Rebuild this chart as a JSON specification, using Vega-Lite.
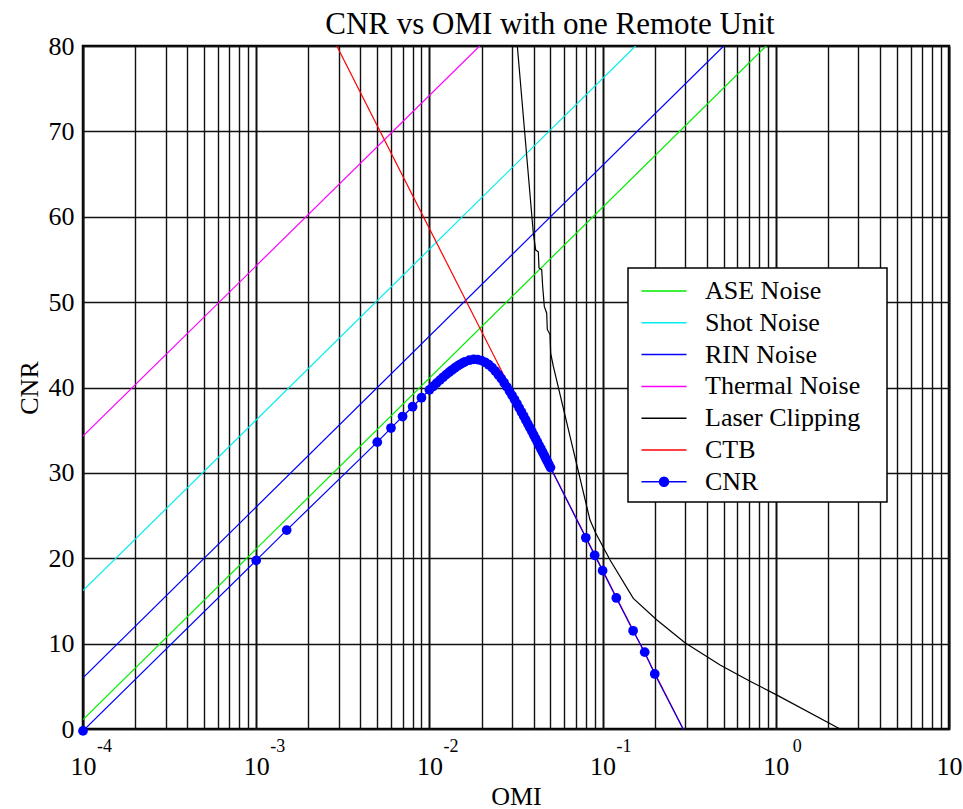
{
  "$schema": "https://vega.github.io/schema/vega-lite/v6.json",
  "width": 866,
  "height": 683,
  "autosize": {"type": "none"},
  "padding": {"left": 83, "top": 46, "right": 14, "bottom": 80},
  "background": "white",
  "title": {"text": "CNR vs OMI with one Remote Unit", "font": "Liberation Serif", "fontSize": 31, "fontWeight": "normal", "color": "black", "anchor": "middle", "dx": 34, "dy": 18, "offset": 10},
  "config": {
    "view": {"stroke": "black", "strokeWidth": 2.5},
    "axis": {"labelFont": "Liberation Serif", "titleFont": "Liberation Serif", "labelColor": "black", "titleColor": "black", "titleFontWeight": "normal", "labelFontSize": 26, "titleFontSize": 26, "ticks": false, "domain": false}
  },
  "data": {"values": [
    {"series": "ASE Noise", "OMI": 0.0001, "CNR": 1.1},
    {"series": "ASE Noise", "OMI": 0.88, "CNR": 80},
    {"series": "Shot Noise", "OMI": 0.0001, "CNR": 16.2},
    {"series": "Shot Noise", "OMI": 0.155, "CNR": 80},
    {"series": "RIN Noise", "OMI": 0.0001, "CNR": 6.0},
    {"series": "RIN Noise", "OMI": 0.5, "CNR": 80},
    {"series": "Thermal Noise", "OMI": 0.0001, "CNR": 34.3},
    {"series": "Thermal Noise", "OMI": 0.0195, "CNR": 80},
    {"series": "Laser Clipping", "OMI": 0.03218, "CNR": 80},
    {"series": "Laser Clipping", "OMI": 0.0398, "CNR": 58.1},
    {"series": "Laser Clipping", "OMI": 0.04109, "CNR": 56.1},
    {"series": "Laser Clipping", "OMI": 0.04254, "CNR": 55.9},
    {"series": "Laser Clipping", "OMI": 0.04293, "CNR": 54.0},
    {"series": "Laser Clipping", "OMI": 0.04451, "CNR": 53.8},
    {"series": "Laser Clipping", "OMI": 0.04509, "CNR": 51.8},
    {"series": "Laser Clipping", "OMI": 0.04607, "CNR": 49.5},
    {"series": "Laser Clipping", "OMI": 0.04755, "CNR": 48.7},
    {"series": "Laser Clipping", "OMI": 0.04794, "CNR": 46.8},
    {"series": "Laser Clipping", "OMI": 0.04969, "CNR": 46.2},
    {"series": "Laser Clipping", "OMI": 0.05015, "CNR": 44.0},
    {"series": "Laser Clipping", "OMI": 0.05191, "CNR": 42.5},
    {"series": "Laser Clipping", "OMI": 0.0845, "CNR": 24.5},
    {"series": "Laser Clipping", "OMI": 0.0912, "CNR": 22.95},
    {"series": "Laser Clipping", "OMI": 0.1104, "CNR": 19.8},
    {"series": "Laser Clipping", "OMI": 0.1504, "CNR": 15.3},
    {"series": "Laser Clipping", "OMI": 0.205, "CNR": 12.8},
    {"series": "Laser Clipping", "OMI": 0.299, "CNR": 10.1},
    {"series": "Laser Clipping", "OMI": 0.477, "CNR": 7.5},
    {"series": "Laser Clipping", "OMI": 0.71, "CNR": 5.6},
    {"series": "Laser Clipping", "OMI": 1.01, "CNR": 4.0},
    {"series": "Laser Clipping", "OMI": 2.35, "CNR": 0},
    {"series": "CTB", "OMI": 0.00292, "CNR": 80},
    {"series": "CTB", "OMI": 0.292, "CNR": 0},
    {"series": "CNR", "OMI": 0.0001, "CNR": -0.22},
    {"series": "CNR", "OMI": 0.001, "CNR": 19.75},
    {"series": "CNR", "OMI": 0.0015, "CNR": 23.3},
    {"series": "CNR", "OMI": 0.005, "CNR": 33.6},
    {"series": "CNR", "OMI": 0.006, "CNR": 35.25},
    {"series": "CNR", "OMI": 0.007, "CNR": 36.6},
    {"series": "CNR", "OMI": 0.008, "CNR": 37.75},
    {"series": "CNR", "OMI": 0.009, "CNR": 38.8},
    {"series": "CNR", "OMI": 0.010, "CNR": 39.72},
    {"series": "CNR", "OMI": 0.0105, "CNR": 40.12},
    {"series": "CNR", "OMI": 0.011, "CNR": 40.51},
    {"series": "CNR", "OMI": 0.0115, "CNR": 40.87},
    {"series": "CNR", "OMI": 0.012, "CNR": 41.20},
    {"series": "CNR", "OMI": 0.0125, "CNR": 41.51},
    {"series": "CNR", "OMI": 0.013, "CNR": 41.79},
    {"series": "CNR", "OMI": 0.0135, "CNR": 42.05},
    {"series": "CNR", "OMI": 0.014, "CNR": 42.29},
    {"series": "CNR", "OMI": 0.0145, "CNR": 42.50},
    {"series": "CNR", "OMI": 0.015, "CNR": 42.69},
    {"series": "CNR", "OMI": 0.0155, "CNR": 42.86},
    {"series": "CNR", "OMI": 0.016, "CNR": 43.00},
    {"series": "CNR", "OMI": 0.017, "CNR": 43.20},
    {"series": "CNR", "OMI": 0.018, "CNR": 43.29},
    {"series": "CNR", "OMI": 0.019, "CNR": 43.27},
    {"series": "CNR", "OMI": 0.020, "CNR": 43.15},
    {"series": "CNR", "OMI": 0.021, "CNR": 42.95},
    {"series": "CNR", "OMI": 0.022, "CNR": 42.67},
    {"series": "CNR", "OMI": 0.023, "CNR": 42.33},
    {"series": "CNR", "OMI": 0.024, "CNR": 41.93},
    {"series": "CNR", "OMI": 0.025, "CNR": 41.50},
    {"series": "CNR", "OMI": 0.026, "CNR": 41.04},
    {"series": "CNR", "OMI": 0.027, "CNR": 40.56},
    {"series": "CNR", "OMI": 0.028, "CNR": 40.07},
    {"series": "CNR", "OMI": 0.029, "CNR": 39.58},
    {"series": "CNR", "OMI": 0.030, "CNR": 39.08},
    {"series": "CNR", "OMI": 0.031, "CNR": 38.59},
    {"series": "CNR", "OMI": 0.032, "CNR": 38.10},
    {"series": "CNR", "OMI": 0.033, "CNR": 37.61},
    {"series": "CNR", "OMI": 0.034, "CNR": 37.13},
    {"series": "CNR", "OMI": 0.035, "CNR": 36.66},
    {"series": "CNR", "OMI": 0.036, "CNR": 36.20},
    {"series": "CNR", "OMI": 0.037, "CNR": 35.74},
    {"series": "CNR", "OMI": 0.038, "CNR": 35.30},
    {"series": "CNR", "OMI": 0.039, "CNR": 34.87},
    {"series": "CNR", "OMI": 0.040, "CNR": 34.44},
    {"series": "CNR", "OMI": 0.041, "CNR": 34.02},
    {"series": "CNR", "OMI": 0.042, "CNR": 33.61},
    {"series": "CNR", "OMI": 0.043, "CNR": 33.21},
    {"series": "CNR", "OMI": 0.044, "CNR": 32.82},
    {"series": "CNR", "OMI": 0.045, "CNR": 32.44},
    {"series": "CNR", "OMI": 0.046, "CNR": 32.06},
    {"series": "CNR", "OMI": 0.047, "CNR": 31.69},
    {"series": "CNR", "OMI": 0.048, "CNR": 31.33},
    {"series": "CNR", "OMI": 0.049, "CNR": 30.97},
    {"series": "CNR", "OMI": 0.050, "CNR": 30.62},
    {"series": "CNR", "OMI": 0.08, "CNR": 22.4},
    {"series": "CNR", "OMI": 0.09, "CNR": 20.35},
    {"series": "CNR", "OMI": 0.1, "CNR": 18.55},
    {"series": "CNR", "OMI": 0.12, "CNR": 15.35},
    {"series": "CNR", "OMI": 0.15, "CNR": 11.5},
    {"series": "CNR", "OMI": 0.175, "CNR": 9.0},
    {"series": "CNR", "OMI": 0.2, "CNR": 6.45},
    {"series": "CNR", "OMI": 0.3, "CNR": -0.48}
  ]},
  "layer": [
    {
      "mark": {"type": "line", "clip": true, "strokeWidth": 1.2},
      "encoding": {
        "x": {
          "field": "OMI", "type": "quantitative",
          "scale": {"type": "log", "domain": [0.0001, 10], "nice": false},
          "axis": {
            "values": [0.0001,0.0002,0.0003,0.0004,0.0005,0.0006,0.0007,0.0008,0.0009,0.001,0.002,0.003,0.004,0.005,0.006,0.007,0.008,0.009,0.01,0.02,0.03,0.04,0.05,0.06,0.07,0.08,0.09,0.1,0.2,0.3,0.4,0.5,0.6,0.7,0.8,0.9,1,2,3,4,5,6,7,8,9,10],
            "labelExpr": "abs(log(datum.value)/LN10 - round(log(datum.value)/LN10)) < 0.001 ? '10' : ''",
            "labelOverlap": false, "labelFlush": false, "labelPadding": 24,
            "grid": true, "gridColor": "#111111", "gridOpacity": 1,
            "gridWidth": {"condition": {"test": "abs(log(datum.value)/LN10 - round(log(datum.value)/LN10)) < 0.001", "value": 2}, "value": 1.4},
            "title": "OMI", "titlePadding": 4
          }
        },
        "y": {
          "field": "CNR", "type": "quantitative",
          "scale": {"domain": [0, 80], "nice": false, "zero": false},
          "axis": {"values": [0,10,20,30,40,50,60,70,80], "grid": true, "gridColor": "#111111", "gridOpacity": 1, "gridWidth": 1.6, "labelPadding": 9, "title": "CNR", "titlePadding": 6}
        },
        "color": {
          "field": "series", "type": "nominal",
          "scale": {"domain": ["ASE Noise", "Shot Noise", "RIN Noise", "Thermal Noise", "Laser Clipping", "CTB", "CNR"], "range": ["#00ee00", "#00eeee", "#0000ff", "#ff00ff", "#000000", "#ff0000", "#0000ff"]},
          "legend": {
            "orient": "none", "legendX": 545, "legendY": 222, "title": null,
            "labelFont": "Liberation Serif", "labelFontSize": 26, "labelColor": "black", "labelLimit": 400,
            "labelExpr": "datum.label + '\u00a0\u00a0\u00a0\u200b'",
            "fillColor": "white", "strokeColor": "black", "padding": 7,
            "symbolType": "M-1.5,0H1.5", "symbolSize": 900, "symbolStrokeWidth": 1.5,
            "rowPadding": 2.8, "labelOffset": 25, "symbolOffset": 13,
            "encode": {
              "legend": {"update": {"strokeWidth": {"value": 1.5}}},
              "symbols": {"update": {
                "shape": {"signal": "datum.value === 'CNR' ? 'M-1.5,0H1.5M0.3,0A0.3,0.3 0 1 1 -0.3,0A0.3,0.3 0 1 1 0.3,0Z' : 'M-1.5,0H1.5'"},
                "fill": {"signal": "datum.value === 'CNR' ? '#0000ff' : 'transparent'"}
              }}
            }
          }
        }
      }
    },
    {
      "transform": [{"filter": "datum.series === 'CNR' && datum.CNR > -0.3"}],
      "mark": {"type": "circle", "size": 95, "color": "#0000ff", "opacity": 1},
      "encoding": {
        "x": {
          "field": "OMI", "type": "quantitative",
          "scale": {"type": "log", "domain": [0.0001, 10], "nice": false},
          "axis": {"orient": "bottom", "values": [0.0001,0.001,0.01,0.1,1,10], "labelExpr": "'' + round(log(datum.value)/LN10)", "labelFontSize": 18, "labelOffset": 21, "labelPadding": 8, "labelOverlap": false, "labelFlush": false, "grid": false, "title": null}
        },
        "y": {"field": "CNR", "type": "quantitative"}
      }
    }
  ],
  "resolve": {"scale": {"x": "independent"}, "axis": {"x": "independent"}}
}
